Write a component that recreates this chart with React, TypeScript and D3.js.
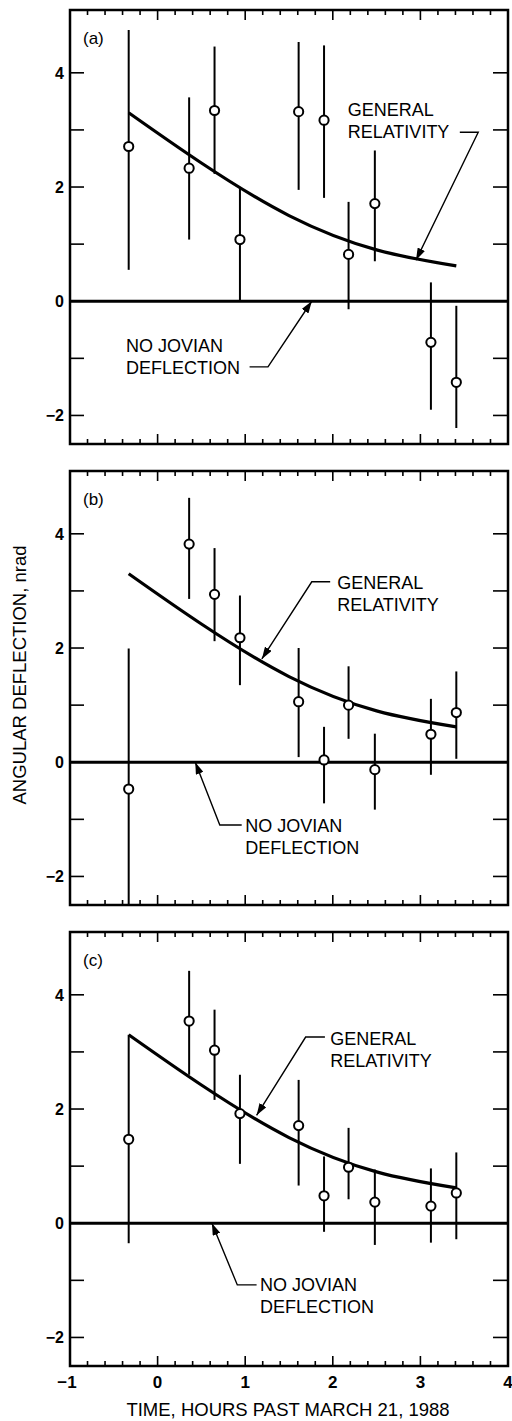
import React from "react";
import * as d3 from "d3";

// ---------- data ----------
const times = [-0.33, 0.36, 0.65, 0.94, 1.61, 1.9, 2.18, 2.48, 3.12, 3.41];

const panelLabels = ["(a)", "(b)", "(c)"];

const valuesA = [2.71, 2.33, 3.34, 1.08, 3.32, 3.17, 0.82, 1.71, -0.72, -1.42];
const lowA = [0.55, 1.08, 2.23, 0.0, 1.95, 1.81, -0.14, 0.7, -1.9, -2.22];
const highA = [4.75, 3.57, 4.46, 2.0, 4.54, 4.48, 1.74, 2.64, 0.33, -0.08];

const valuesB = [-0.47, 3.82, 2.94, 2.18, 1.06, 0.04, 1.0, -0.13, 0.49, 0.87];
const lowB = [-2.5, 2.86, 2.12, 1.35, 0.09, -0.72, 0.41, -0.83, -0.22, 0.06];
const highB = [1.99, 4.63, 3.75, 2.92, 2.0, 0.62, 1.68, 0.5, 1.11, 1.59];

const valuesC = [1.47, 3.54, 3.03, 1.92, 1.71, 0.48, 0.98, 0.37, 0.3, 0.53];
const lowC = [-0.35, 2.6, 2.16, 1.04, 0.66, -0.15, 0.42, -0.38, -0.34, -0.28];
const highC = [3.3, 4.42, 3.74, 2.6, 2.51, 1.17, 1.67, 0.94, 0.96, 1.24];

// general relativity prediction curve
const grTimes = [-0.33, 0.5, 1.5, 2.5, 3.41];
const grValues = [3.3, 2.42, 1.5, 0.9, 0.62];

const xTickLabels = ["−1", "0", "1", "2", "3", "4"];
const xTickValues = [-1, 0, 1, 2, 3, 4];
const yTickValues = [-2, 0, 2, 4];
const yTickLabels = ["−2", "0", "2", "4"];
const yMinorValues = [-1, 1, 3];

const grText = ["GENERAL", "RELATIVITY"];
const njText = ["NO JOVIAN", "DEFLECTION"];

// annotation anchors in data coordinates [t, value]
const grTextPos = [[2.17, 3.35], [2.05, 3.14], [1.97, 3.24]];
const grLeader = [
  [[3.45, 2.96], [3.66, 2.96], [2.95, 0.72]],
  [[1.97, 3.16], [1.76, 3.16], [1.19, 1.81]],
  [[1.91, 3.26], [1.69, 3.26], [1.13, 1.89]],
];
const njTextPos = [[-0.36, -0.77], [1.0, -1.1], [1.17, -1.08]];
const njLeader = [
  [[1.05, -1.15], [1.26, -1.15], [1.76, 0]],
  [[0.96, -1.1], [0.71, -1.1], [0.43, 0]],
  [[1.13, -1.08], [0.91, -1.08], [0.62, 0]],
];

const panels = [
  { label: panelLabels[0], values: valuesA, low: lowA, high: highA },
  { label: panelLabels[1], values: valuesB, low: lowB, high: highB },
  { label: panelLabels[2], values: valuesC, low: lowC, high: highC },
];

// ---------- layout ----------
const W = 512;
const H = 1421;
const left = 70;
const right = 508;
const panelTops = [10, 471, 932];
const panelH = 434;
const FONT = "'Liberation Sans', Arial, Helvetica, sans-serif";

const x = d3.scaleLinear().domain([-1, 4]).range([left, right]);
const xMinor = d3.range(-1, 4.0001, 0.2).map((v) => Math.round(v * 10) / 10);

function Panel({ idx }: { idx: number }) {
  const p = panels[idx];
  const top = panelTops[idx];
  const y = d3.scaleLinear().domain([-2.5, 5.1]).range([top + panelH, top]);
  const line = d3
    .line<number>()
    .x((_, i) => x(grTimes[i]))
    .y((d) => y(d))
    .curve(d3.curveNatural);
  const bottom = top + panelH;
  const gl = grLeader[idx];
  const nl = njLeader[idx];
  const pt = (a: number[]) => `${x(a[0])},${y(a[1])}`;
  const clipId = `clip${idx}`;
  return (
    <g>
      <defs>
        <clipPath id={clipId}>
          <rect x={left} y={top} width={right - left} height={panelH} />
        </clipPath>
      </defs>
      {xMinor.map((v, i) => {
        const major = Math.abs(v - Math.round(v)) < 1e-6;
        const len = major ? 10 : 5;
        return (
          <g key={"xt" + i} stroke="#000" strokeWidth={1.6}>
            <line x1={x(v)} x2={x(v)} y1={top} y2={top + len} />
            <line x1={x(v)} x2={x(v)} y1={bottom} y2={bottom - len} />
          </g>
        );
      })}
      {[...yTickValues, ...yMinorValues].map((v, i) => (
        <g key={"yt" + i} stroke="#000" strokeWidth={1.6}>
          <line x1={left} x2={left + 14} y1={y(v)} y2={y(v)} />
          <line x1={right} x2={right - 15} y1={y(v)} y2={y(v)} />
        </g>
      ))}
      {yTickValues.map((v, i) => (
        <text
          key={"yl" + i}
          x={64}
          y={y(v) + 6}
          textAnchor="end"
          fontFamily={FONT}
          fontWeight="bold"
          fontSize={16}
        >
          {yTickLabels[i]}
        </text>
      ))}
      <line x1={left} x2={right} y1={y(0)} y2={y(0)} stroke="#000" strokeWidth={3} />
      <path d={line(grValues) || ""} fill="none" stroke="#000" strokeWidth={3.2} />
      <g clipPath={`url(#${clipId})`}>
        {times.map((t, i) => (
          <line
            key={"eb" + i}
            x1={x(t)}
            x2={x(t)}
            y1={y(p.low[i])}
            y2={y(p.high[i])}
            stroke="#000"
            strokeWidth={2}
          />
        ))}
      </g>
      {times.map((t, i) => (
        <circle
          key={"pt" + i}
          cx={x(t)}
          cy={y(p.values[i])}
          r={4.6}
          fill="#fff"
          stroke="#000"
          strokeWidth={2}
        />
      ))}
      <rect
        x={left}
        y={top}
        width={right - left}
        height={panelH}
        fill="none"
        stroke="#000"
        strokeWidth={2.5}
      />
      <text x={83} y={top + 34} fontFamily={FONT} fontSize={17}>
        {p.label}
      </text>
      {grText.map((s, k) => (
        <text
          key={"gr" + k}
          x={x(grTextPos[idx][0])}
          y={y(grTextPos[idx][1]) + 6.5 + k * 22}
          fontFamily={FONT}
          fontSize={18}
        >
          {s}
        </text>
      ))}
      <polyline
        points={`${pt(gl[0])} ${pt(gl[1])} ${pt(gl[2])}`}
        fill="none"
        stroke="#000"
        strokeWidth={1.4}
        markerEnd="url(#arrow)"
      />
      {njText.map((s, k) => (
        <text
          key={"nj" + k}
          x={x(njTextPos[idx][0])}
          y={y(njTextPos[idx][1]) + 6.5 + k * 22}
          fontFamily={FONT}
          fontSize={18}
        >
          {s}
        </text>
      ))}
      <polyline
        points={`${pt(nl[0])} ${pt(nl[1])} ${pt(nl[2])}`}
        fill="none"
        stroke="#000"
        strokeWidth={1.4}
        markerEnd="url(#arrow)"
      />
    </g>
  );
}

export default function App() {
  const lastBottom = panelTops[2] + panelH;
  return (
    <svg
      width={W}
      height={H}
      viewBox={`0 0 ${W} ${H}`}
      style={{ position: "absolute", left: 0, top: 0, display: "block", background: "#fff" }}
    >
      <defs>
        <marker
          id="arrow"
          viewBox="0 0 12 8"
          refX={12}
          refY={4}
          markerWidth={12}
          markerHeight={8}
          markerUnits="userSpaceOnUse"
          orient="auto"
        >
          <path d="M0,0 L12,4 L0,8 Z" fill="#000" />
        </marker>
      </defs>
      <rect x={0} y={0} width={W} height={H} fill="#fff" />
      {panels.map((_, i) => (
        <Panel key={i} idx={i} />
      ))}
      {xTickValues.map((v, i) => (
        <text
          key={"xl" + i}
          x={x(v) - (v < 0 ? 3 : 0)}
          y={lastBottom + 22}
          textAnchor="middle"
          fontFamily={FONT}
          fontWeight="bold"
          fontSize={17}
        >
          {xTickLabels[i]}
        </text>
      ))}
      <text
        x={288}
        y={lastBottom + 50}
        textAnchor="middle"
        fontFamily={FONT}
        fontSize={18.5}
      >
        TIME, HOURS PAST MARCH 21, 1988
      </text>
      <text
        transform={`translate(26, 675) rotate(-90)`}
        textAnchor="middle"
        fontFamily={FONT}
        fontSize={18.5}
      >
        ANGULAR DEFLECTION, nrad
      </text>
    </svg>
  );
}
